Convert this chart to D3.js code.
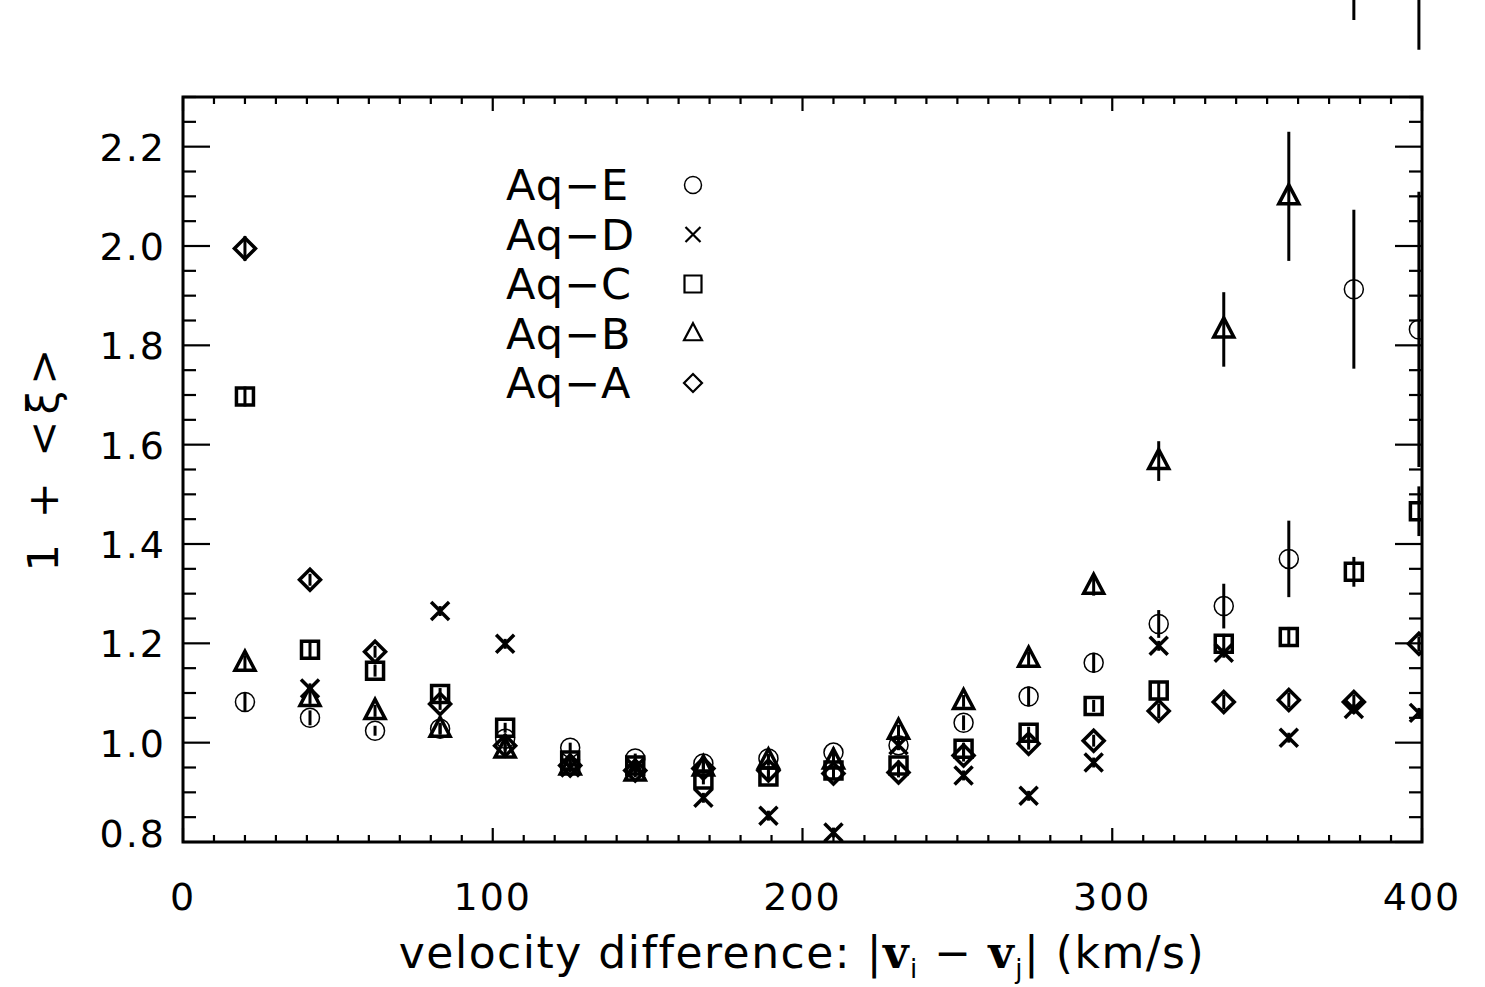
<!DOCTYPE html>
<html>
<head>
<meta charset="utf-8">
<script src="https://cdn.jsdelivr.net/npm/d3@7"></script>
<style>
  body { margin: 0; background: #fff; }
  text { font-family: "DejaVu Sans", sans-serif; fill: #000; }
</style>
</head>
<body>
<svg id="chart" width="1485" height="987"></svg>
<script>
// bin centres (km/s)
const velocity = [20, 41, 62, 83, 104, 125, 146, 168, 189, 210, 231, 252, 273, 294, 315, 336, 357, 378, 399];

// 1 + <xi> per halo, null where not plotted
const aqE = [1.082, 1.050, 1.024, 1.028, 1.008, 0.990, 0.968, 0.958, 0.968, 0.980, 0.995, 1.040, 1.093, 1.161, 1.239, 1.275, 1.370, 1.913, 1.832];
const aqD = [null, 1.109, null, 1.265, 1.199, 0.950, 0.950, 0.889, 0.853, 0.819, 0.995, 0.934, 0.893, 0.960, 1.195, 1.181, 1.010, 1.068, 1.060];
const aqC = [1.697, 1.187, 1.145, 1.098, 1.030, 0.964, 0.954, 0.926, 0.932, 0.944, 0.954, 0.988, 1.020, 1.074, 1.105, 1.199, 1.213, 1.344, 1.466];
const aqB = [1.161, 1.090, 1.064, 1.028, 0.986, 0.952, 0.940, 0.950, 0.964, 0.964, 1.024, 1.084, 1.169, 1.316, 1.567, 1.832, 2.100, 2.600, 2.700];
const aqA = [1.995, 1.328, 1.183, 1.078, 0.994, 0.954, 0.944, 0.948, 0.944, 0.938, 0.940, 0.974, 0.998, 1.004, 1.064, 1.082, 1.086, 1.082, 1.199];

// error bars (half length)
const errE = [0.020, 0.015, 0.010, 0.010, 0.010, 0.010, 0.010, 0.010, 0.010, 0.010, 0.010, 0.015, 0.020, 0.020, 0.028, 0.045, 0.077, 0.160, 0.277];
const errD = [0, 0.010, 0, 0.010, 0.010, 0.010, 0.010, 0.010, 0.010, 0.010, 0.010, 0.010, 0.010, 0.010, 0.010, 0.010, 0.010, 0.010, 0.010];
const errC = [0.020, 0.015, 0.012, 0.012, 0.010, 0.010, 0.010, 0.010, 0.010, 0.010, 0.010, 0.012, 0.012, 0.012, 0.015, 0.020, 0.020, 0.030, 0.050];
const errB = [0.015, 0.012, 0.012, 0.012, 0.010, 0.010, 0.010, 0.010, 0.010, 0.010, 0.012, 0.012, 0.015, 0.020, 0.040, 0.075, 0.130, 0.145, 0.305];
const errA = [0.025, 0.012, 0.012, 0.012, 0.010, 0.010, 0.010, 0.010, 0.010, 0.010, 0.010, 0.012, 0.012, 0.012, 0.015, 0.015, 0.015, 0.015, 0.015];

const legendNames = ["Aq\u2212E", "Aq\u2212D", "Aq\u2212C", "Aq\u2212B", "Aq\u2212A"];
const symbolsOf = ["circle", "cross", "square", "triangle", "diamond"];

const xTicks = [0, 100, 200, 300, 400];
const yTicks = [0.8, 1.0, 1.2, 1.4, 1.6, 1.8, 2.0, 2.2];

const series = [
  { name: legendNames[0], sym: symbolsOf[0], y: aqE, e: errE },
  { name: legendNames[1], sym: symbolsOf[1], y: aqD, e: errD },
  { name: legendNames[2], sym: symbolsOf[2], y: aqC, e: errC },
  { name: legendNames[3], sym: symbolsOf[3], y: aqB, e: errB },
  { name: legendNames[4], sym: symbolsOf[4], y: aqA, e: errA }
];

const svg = d3.select("#chart");
const L = 183, R = 1422, T = 97, B = 842;

const x = d3.scaleLinear().domain([0, 400]).range([L, R]);
const y = d3.scaleLinear().domain([0.8, 2.3]).range([B, T]);

// marker path builders (s = half width)
function symPath(kind, s) {
  if (kind === "cross") return `M${-s},${-s}L${s},${s}M${-s},${s}L${s},${-s}`;
  if (kind === "square") return `M${-s},${-s}H${s}V${s}H${-s}Z`;
  if (kind === "triangle") return `M0,${-s * 1.15}L${s},${s * 0.75}H${-s}Z`;
  if (kind === "diamond") return `M0,${-s}L${s},0L0,${s}L${-s},0Z`;
  return null;
}

function drawSymbol(g, kind, cx, cy, big) {
  if (kind === "circle") {
    g.append("circle").attr("cx", cx).attr("cy", cy).attr("r", big ? 9.5 : 8.5)
      .attr("fill", "none").attr("stroke", "#000").attr("stroke-width", 1.5);
    return;
  }
  const sz = { cross: big ? 9 : 7.5, square: 8.5, triangle: big ? 10 : 9, diamond: big ? 10.5 : 9 }[kind];
  g.append("path").attr("d", symPath(kind, sz))
    .attr("transform", `translate(${cx},${cy})`)
    .attr("fill", "none").attr("stroke", "#000")
    .attr("stroke-width", big ? 3.5 : 2.2).attr("stroke-linejoin", "miter");
}

svg.append("defs").append("clipPath").attr("id", "plotclip")
  .append("rect").attr("x", L).attr("y", T).attr("width", R - L).attr("height", B - T);

// error bars (not clipped)
const errG = svg.append("g");
series.forEach(s => {
  velocity.forEach((v, i) => {
    if (s.y[i] == null || !s.e[i]) return;
    errG.append("line")
      .attr("x1", x(v)).attr("x2", x(v))
      .attr("y1", y(s.y[i] - s.e[i])).attr("y2", y(s.y[i] + s.e[i]))
      .attr("stroke", "#000").attr("stroke-width", 3);
  });
});

// markers
const markG = svg.append("g").attr("clip-path", "url(#plotclip)");
series.slice().reverse().forEach(s => {
  velocity.forEach((v, i) => {
    if (s.y[i] == null) return;
    drawSymbol(markG, s.sym, x(v), y(s.y[i]), true);
  });
});

// axes box with inward ticks
const axG = svg.append("g").attr("stroke", "#000");
axG.append("rect").attr("x", L).attr("y", T).attr("width", R - L).attr("height", B - T)
  .attr("fill", "none").attr("stroke-width", 3);

d3.range(0, 401, 10).forEach(v => {
  const len = v % 100 === 0 ? 14 : 7;
  axG.append("line").attr("x1", x(v)).attr("x2", x(v)).attr("y1", B).attr("y2", B - len).attr("stroke-width", 2.2);
  axG.append("line").attr("x1", x(v)).attr("x2", x(v)).attr("y1", T).attr("y2", T + len).attr("stroke-width", 2.2);
});
d3.range(16, 47).map(k => k * 0.05).forEach(v => {
  const major = Math.abs(Math.round(v * 5) - v * 5) < 1e-6;
  const len = major ? 27 : 13;
  axG.append("line").attr("x1", L).attr("x2", L + len).attr("y1", y(v)).attr("y2", y(v)).attr("stroke-width", 2.2);
  axG.append("line").attr("x1", R).attr("x2", R - len).attr("y1", y(v)).attr("y2", y(v)).attr("stroke-width", 2.2);
});

// tick labels
svg.append("g").selectAll("text").data(xTicks).join("text")
  .attr("x", d => x(d)).attr("y", 910)
  .attr("text-anchor", "middle").attr("font-size", 38).attr("letter-spacing", 2)
  .text(d => d);

svg.append("g").selectAll("text").data(yTicks).join("text")
  .attr("x", 166).attr("y", d => Math.min(y(d), 833) + 14)
  .attr("text-anchor", "end").attr("font-size", 38).attr("letter-spacing", 2)
  .text(d => d3.format(".1f")(d));

// axis titles
const xt = svg.append("text").attr("x", 802).attr("y", 968)
  .attr("text-anchor", "middle").attr("font-size", 44).attr("letter-spacing", 1.5);
xt.append("tspan").text("velocity difference: |");
xt.append("tspan").attr("font-weight", "bold").attr("font-family", "DejaVu Serif").text("v");
xt.append("tspan").attr("font-size", 26).attr("dy", 10).text("i");
xt.append("tspan").attr("dy", -10).text(" \u2212 ");
xt.append("tspan").attr("font-weight", "bold").attr("font-family", "DejaVu Serif").text("v");
xt.append("tspan").attr("font-size", 26).attr("dy", 10).text("j");
xt.append("tspan").attr("dy", -10).text("| (km/s)");

svg.append("text")
  .attr("transform", "translate(58,457) rotate(-90)")
  .attr("text-anchor", "middle").attr("font-size", 43).attr("letter-spacing", 6)
  .text("1 + <\u03be>");

// legend
const leg = svg.append("g");
series.forEach((s, i) => {
  const cy = 185 + i * 49.5;
  leg.append("text").attr("x", 506).attr("y", cy + 15)
    .attr("font-size", 43).attr("letter-spacing", 1).text(s.name);
  drawSymbol(leg, s.sym, 693, cy, false);
});
</script>
</body>
</html>
